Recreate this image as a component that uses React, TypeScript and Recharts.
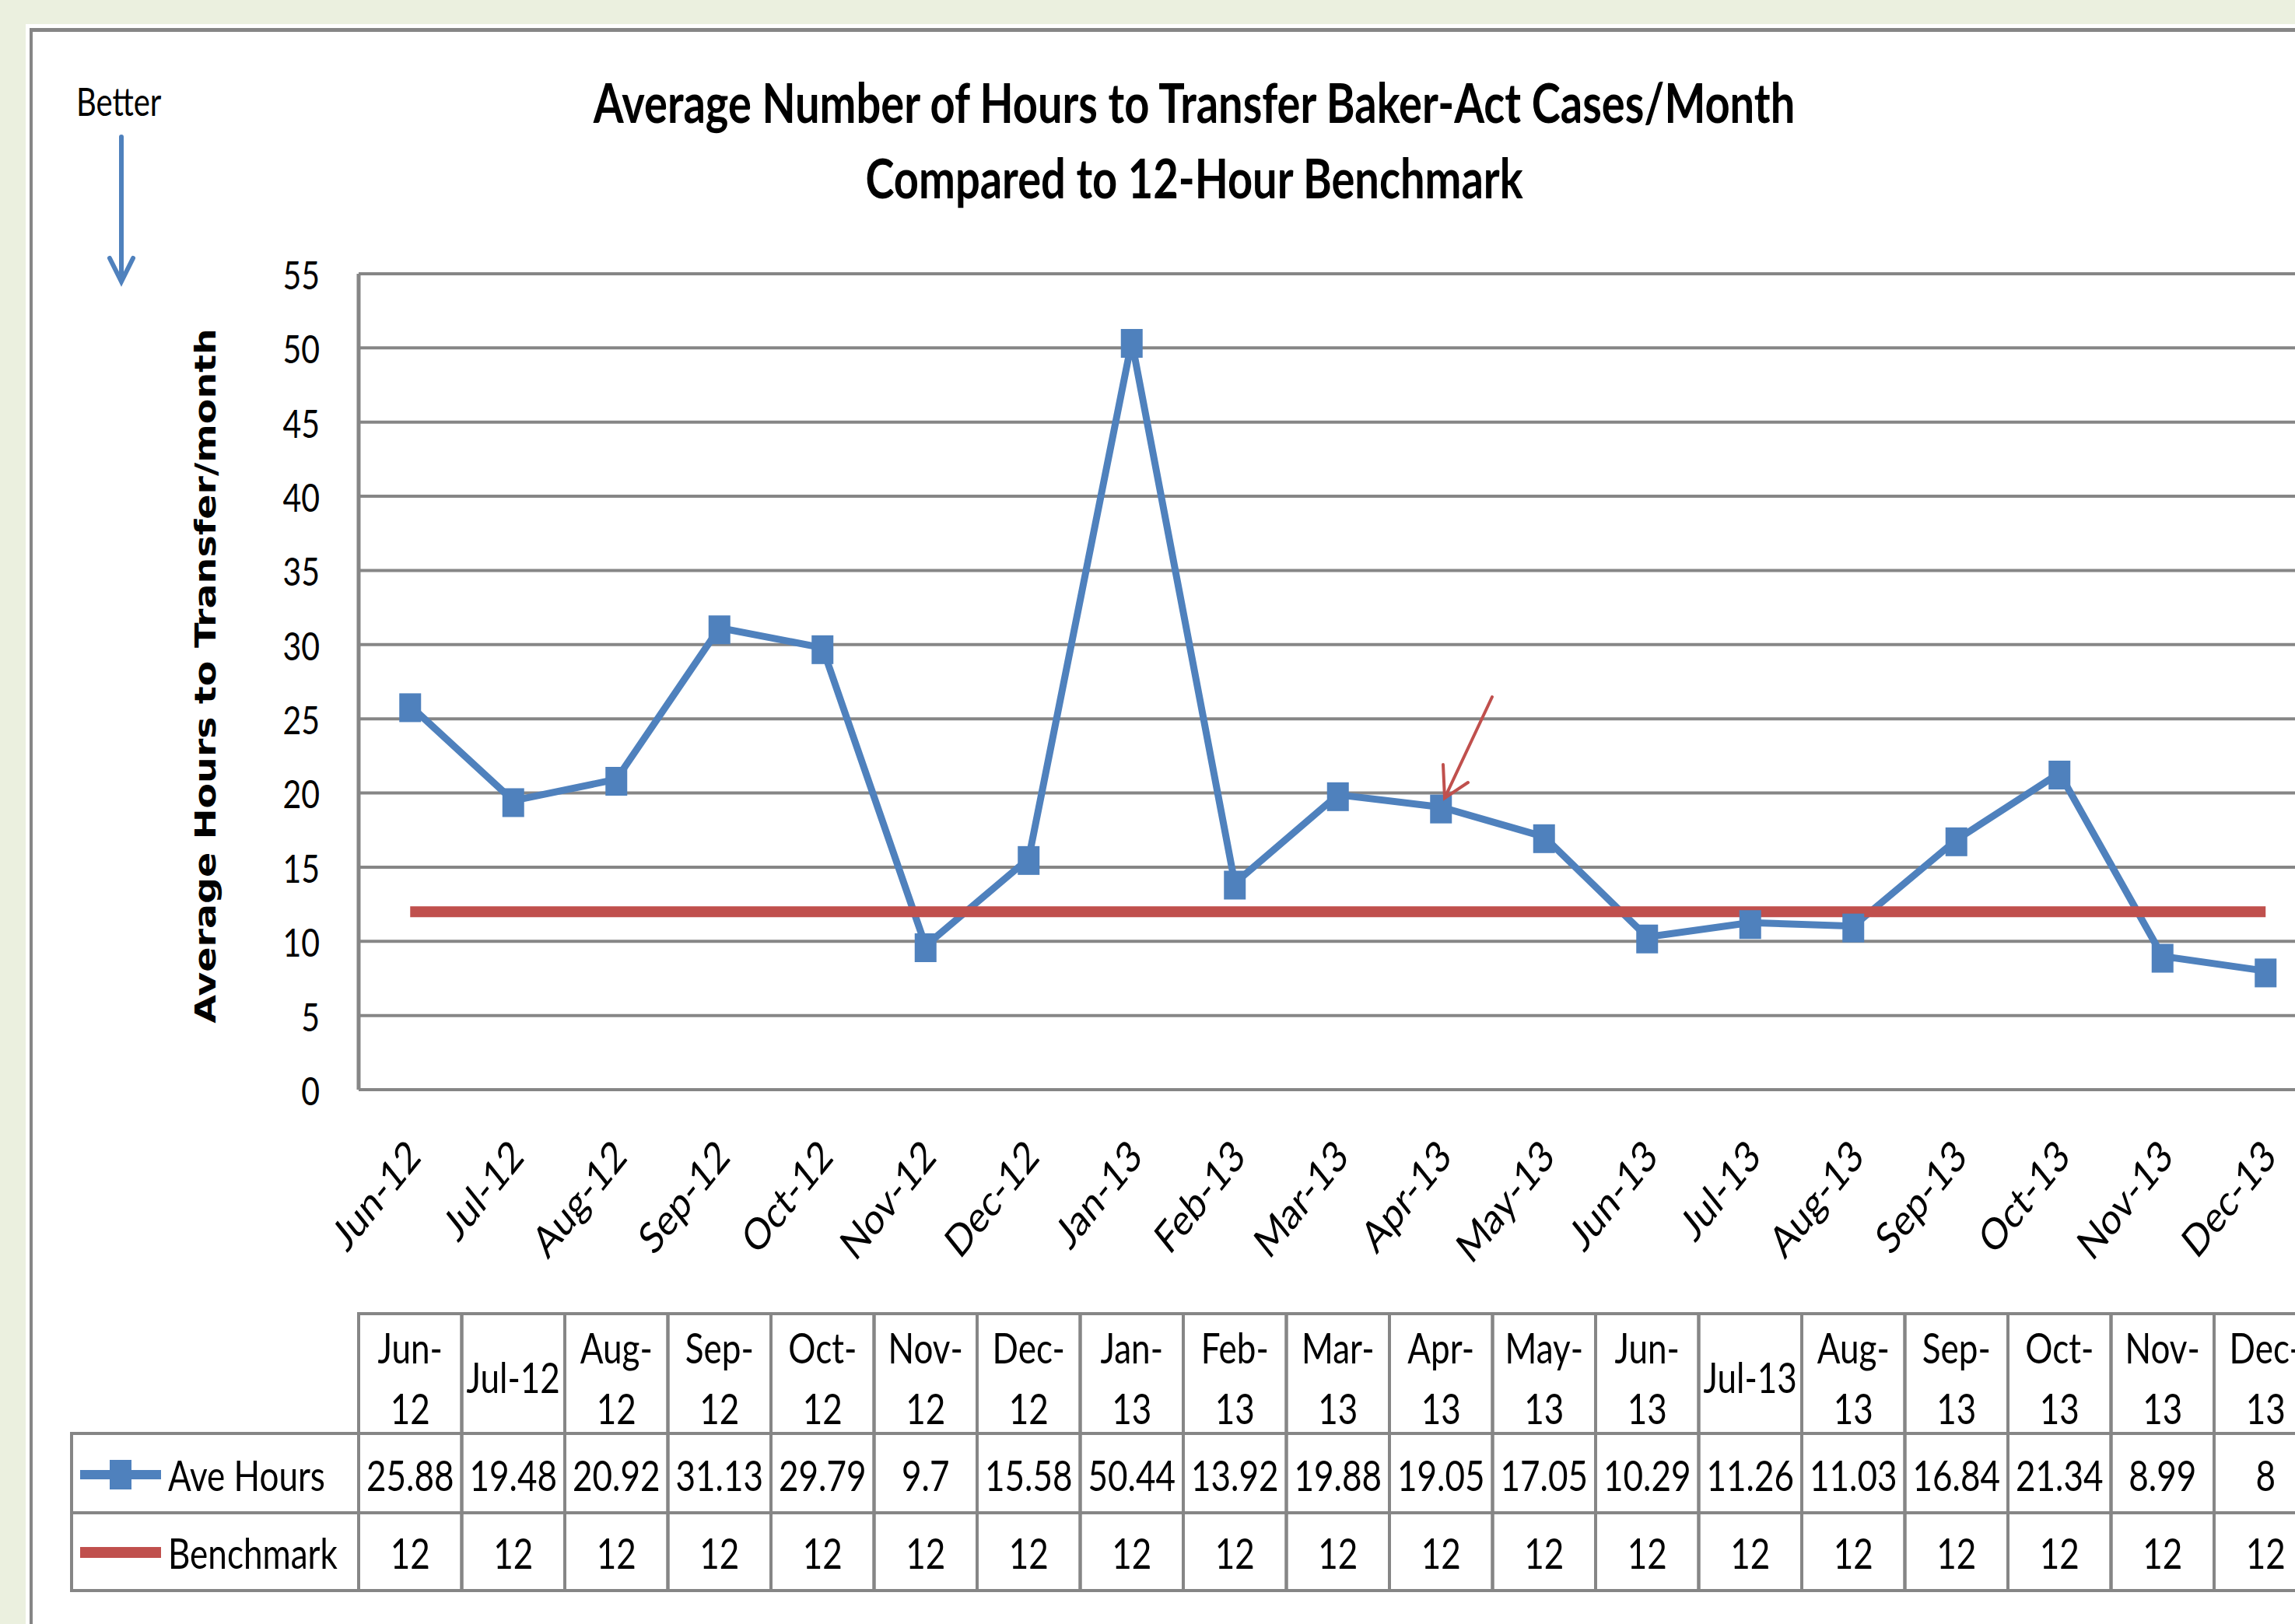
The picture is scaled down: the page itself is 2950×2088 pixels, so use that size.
import { LineChart, Line, XAxis, YAxis, CartesianGrid } from 'recharts'

const months = ['Jun-12', 'Jul-12', 'Aug-12', 'Sep-12', 'Oct-12', 'Nov-12', 'Dec-12', 'Jan-13', 'Feb-13', 'Mar-13', 'Apr-13', 'May-13', 'Jun-13', 'Jul-13', 'Aug-13', 'Sep-13', 'Oct-13', 'Nov-13', 'Dec-13']
const aveHours = [25.88, 19.48, 20.92, 31.13, 29.79, 9.7, 15.58, 50.44, 13.92, 19.88, 19.05, 17.05, 10.29, 11.26, 11.03, 16.84, 21.34, 8.99, 8]
const benchmark = [12, 12, 12, 12, 12, 12, 12, 12, 12, 12, 12, 12, 12, 12, 12, 12, 12, 12, 12]
const yTicks = [0, 5, 10, 15, 20, 25, 30, 35, 40, 45, 50, 55]
const titleLines = ['Average Number of Hours to Transfer Baker-Act Cases/Month', 'Compared to 12-Hour Benchmark']
const seriesNames = ['Ave Hours', 'Benchmark']

const data = months.map((month, i) => ({ month, ave: aveHours[i], bench: benchmark[i] }))

// layout (px, full size page)
const PAGE_W = 2950
const PAGE_H = 2088
const CHART_W = 3000
const CHART_H = 1700
const PLOT_L = 461
const PLOT_T = 352
const PLOT_B = 1401
const BAND = 132.5
const PLOT_R = PLOT_L + BAND * months.length
const Y_AXIS_W = 100
const X_AXIS_H = 200
const STRETCH = 1.25

const GRID = '#868686'
const BLUE = '#4F81BD'
const RED = '#C0504D'
const FONT = 'Lato, "Open Sans", sans-serif'

const rowTops = [1689, 1843, 1945, 2045]
const LEGEND_L = 92

const SText = ({ x, y, size, children, anchor = 'middle', weight = 'normal', family = FONT }: any) => (
  <text
    transform={`translate(${x},${y}) scale(1,${STRETCH})`}
    textAnchor={anchor}
    dominantBaseline="central"
    fontSize={size}
    fontFamily={family}
    fontWeight={weight}
    fill="#000"
  >
    {children}
  </text>
)

const MonthTick = ({ x, y, payload }: any) => (
  <g transform={`translate(${x + 16},${y + 89}) scale(1,${STRETCH})`}>
    <text textAnchor="end" transform="rotate(-45)" fontSize={45} fontFamily={FONT} fill="#000">
      {payload.value}
    </text>
  </g>
)

const HourTick = ({ x, y, payload }: any) => (
  <SText x={x} y={y} size={41} anchor="end">{payload.value}</SText>
)

// squares drawn a little tall, like the stretched original
const SquareDot = (props: any) => {
  const { cx, cy, index } = props
  if (cx == null || cy == null) return <g key={`d${index}`} />
  return <rect key={`d${index}`} x={cx - 14} y={cy - 16} width={28} height={37} fill={BLUE} />
}

const headerLines = (m: string) => (m.startsWith('Jul') ? [m] : [m.slice(0, 4), m.slice(4)])

const App = () => {
  return (
    <div style={{ position: 'absolute', left: 0, top: 0, width: PAGE_W, height: PAGE_H, overflow: 'hidden', background: '#EBF0DF' }}>
      <div style={{ position: 'absolute', left: 33, top: 31, width: 3000, height: 2100, background: '#fff' }} />
      <div style={{ position: 'absolute', left: 38, top: 36, width: 3000, height: 2100, borderLeft: `4px solid ${GRID}`, borderTop: `5px solid ${GRID}` }} />

      <div style={{ position: 'absolute', left: 0, top: 0 }}>
        <LineChart
          width={CHART_W}
          height={CHART_H}
          data={data}
          margin={{ top: PLOT_T, right: CHART_W - PLOT_R, bottom: CHART_H - PLOT_B - X_AXIS_H, left: PLOT_L - Y_AXIS_W }}
        >
          <CartesianGrid vertical={false} stroke={GRID} strokeWidth={4} />
          <XAxis
            dataKey="month"
            interval={0}
            height={X_AXIS_H}
            padding={{ left: BAND / 2, right: BAND / 2 }}
            axisLine={{ stroke: GRID, strokeWidth: 4 }}
            tickLine={false}
            tickSize={0}
            tickMargin={0}
            tick={<MonthTick />}
          />
          <YAxis
            width={Y_AXIS_W}
            domain={[0, 55]}
            ticks={yTicks}
            interval={0}
            axisLine={{ stroke: GRID, strokeWidth: 5 }}
            tickLine={false}
            tickSize={0}
            tickMargin={50}
            tick={<HourTick />}
          />
          <Line
            type="linear"
            dataKey="ave"
            name={seriesNames[0]}
            stroke={BLUE}
            strokeWidth={9}
            dot={SquareDot}
            activeDot={false}
            isAnimationActive={false}
          />
          <Line
            type="linear"
            dataKey="bench"
            name={seriesNames[1]}
            stroke={RED}
            strokeWidth={14}
            dot={false}
            activeDot={false}
            isAnimationActive={false}
          />
        </LineChart>
      </div>

      <svg width={PAGE_W} height={PAGE_H} style={{ position: 'absolute', left: 0, top: 0, pointerEvents: 'none' }}>
        {/* title */}
        <SText x={1535} y={130} size={56} weight="bold">{titleLines[0]}</SText>
        <SText x={1535} y={227} size={56} weight="bold">{titleLines[1]}</SText>

        {/* "Better" note */}
        <SText x={98} y={130} size={40} anchor="start">Better</SText>
        <g stroke={BLUE} strokeWidth={6} fill="none" strokeLinecap="round">
          <line x1={156} y1={176} x2={156} y2={360} />
          <polyline points="141,332 156,362 171,332" />
        </g>

        {/* annotation arrow */}
        <g stroke={RED} strokeWidth={4} fill="none" strokeLinecap="round">
          <line x1={1918} y1={896} x2={1857} y2={1026} />
          <polyline points="1855,983 1857,1026 1887,1006" />
        </g>

        {/* y axis title */}
        <text
          transform={`translate(264,869) scale(1,${STRETCH}) rotate(-90)`}
          textAnchor="middle"
          dominantBaseline="central"
          fontSize={38}
          fontWeight="bold"
          fontFamily='"DejaVu Sans", Verdana, sans-serif'
          fill="#000"
        >
          Average Hours to Transfer/month
        </text>

        {/* data table */}
        <g fill="none" stroke={GRID} strokeWidth={4}>
          {[0, 1, 2].map((r) =>
            months.map((m, i) => (
              <rect key={`c${r}-${i}`} x={PLOT_L + i * BAND} y={rowTops[r]} width={BAND} height={rowTops[r + 1] - rowTops[r]} />
            ))
          )}
          <rect x={LEGEND_L} y={rowTops[1]} width={PLOT_L - LEGEND_L} height={rowTops[2] - rowTops[1]} />
          <rect x={LEGEND_L} y={rowTops[2]} width={PLOT_L - LEGEND_L} height={rowTops[3] - rowTops[2]} />
        </g>
        {months.map((m, i) => {
          const cx = PLOT_L + (i + 0.5) * BAND
          const lines = headerLines(m)
          return (
            <g key={`h${i}`}>
              {lines.length === 1 ? (
                <SText x={cx} y={1770} size={44}>{lines[0]}</SText>
              ) : (
                <>
                  <SText x={cx} y={1732} size={44}>{lines[0]}</SText>
                  <SText x={cx} y={1810} size={44}>{lines[1]}</SText>
                </>
              )}
              <SText x={cx} y={1896} size={44}>{aveHours[i]}</SText>
              <SText x={cx} y={1996} size={44}>{benchmark[i]}</SText>
            </g>
          )
        })}
        {/* legend keys */}
        <line x1={103} y1={1896} x2={207} y2={1896} stroke={BLUE} strokeWidth={12} />
        <rect x={141} y={1877} width={28} height={38} fill={BLUE} />
        <SText x={216} y={1896} size={44} anchor="start">{seriesNames[0]}</SText>
        <line x1={103} y1={1996} x2={207} y2={1996} stroke={RED} strokeWidth={14} />
        <SText x={216} y={1996} size={44} anchor="start">{seriesNames[1]}</SText>
      </svg>
    </div>
  )
}

export default App
